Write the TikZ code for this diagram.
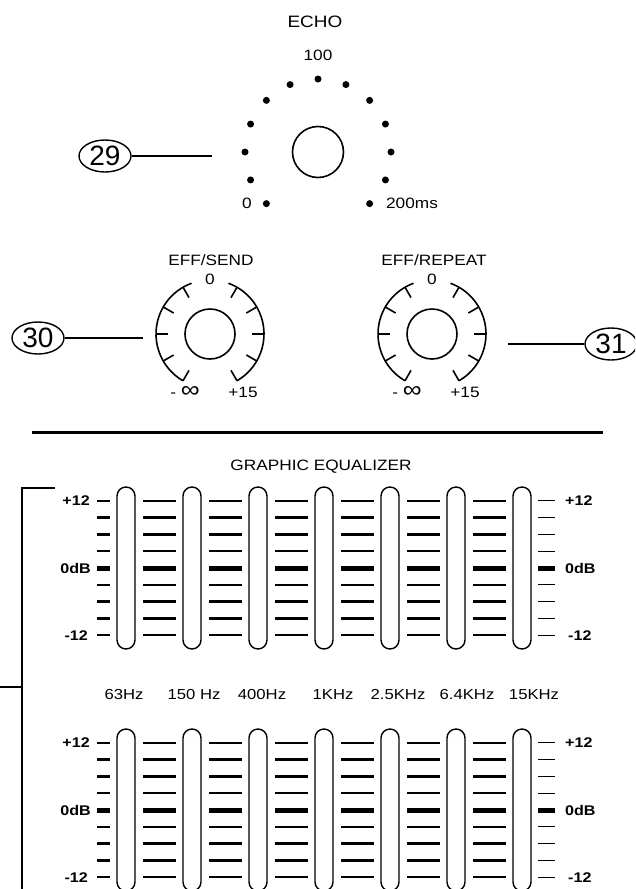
\documentclass[tikz,border=0pt]{standalone}
\usepackage{fontspec}
\setmainfont{Liberation Sans}
\newfontfamily\panelfont{Liberation Sans}[FakeStretch=1.15]
\usetikzlibrary{shapes.geometric}

\begin{document}
\begin{tikzpicture}[x=1pt, y=-1pt,
  lbl/.style={font=\panelfont\fontsize{15}{15}\selectfont, inner sep=0pt},
  dblbl/.style={font=\panelfont\bfseries\fontsize{14}{14}\selectfont, inner sep=0pt},
  callout/.style={ellipse, draw, line width=1.4pt, inner sep=0pt,
                  minimum width=52pt, minimum height=32pt,
                  font=\fontsize{28}{28}\selectfont},
  knob/.style={circle, draw, line width=1.6pt, minimum size=51pt, inner sep=0pt},
  dial/.style={line width=1.6pt},
  slot/.style={draw, line width=1.4pt, rounded corners=9pt,
               minimum width=18pt, minimum height=162pt, inner sep=0pt},
  tick/.style={line width=2.4pt},
  zerotick/.style={line width=5pt},
  lead/.style={line width=1.3pt}]
  \useasboundingbox (0,0) rectangle (635,889);
  \clip (0,0) rectangle (635,889);

  \node[lbl, font=\panelfont\fontsize{16.5}{16.5}\selectfont] (echotitle) at (315,22) {ECHO};
  \node[knob] (echo) at (318,152) {};
  \foreach \a in {-45,-22.5,...,225}
    \fill (echo.center) ++(\a:73pt) circle (3.5pt);
  \node[lbl] (echomax) at (318,55) {100};
  \node[lbl] (echomin) at (247,203) {0};
  \node[lbl] (echoms) at (412,203) {200ms};

  \node[callout] (c29) at (105,156) {29};
  \coordinate (c29end) at (212,156);
  \draw[lead] (c29) -- (c29end);

  \node[lbl] (sendtitle) at (211,260) {EFF/SEND};
  \node[lbl] (repeattitle) at (434,260) {EFF/REPEAT};
  \node[knob, minimum size=50pt] (send) at (210,334) {};
  \node[knob, minimum size=50pt] (repeat) at (432,334) {};
  \foreach \k in {send,repeat}{
    \draw[dial] (\k.center) ++(-60:54pt) arc[start angle=-60, end angle=70, radius=54pt];
    \draw[dial] (\k.center) ++(110:54pt) arc[start angle=110, end angle=240, radius=54pt];
    \foreach \a in {-60,-30,0,30,60,120,150,180,210,240}
      \draw[dial] (\k.center) ++(\a:54pt) -- ++(\a:-12pt);
    \node[lbl] (\k top) at ([shift={(0,-55)}]\k.center) {0};
    \node[lbl] (\k min) at ([shift={(-25,58)}]\k.center) {-\ {\fontsize{23}{15}\selectfont ∞}};
    \node[lbl] (\k max) at ([shift={(33,58)}]\k.center) {+15};
  }

  \node[callout] (c30) at (38,338) {30};
  \coordinate (c30end) at (143,338);
  \draw[lead] (c30) -- (c30end);
  \node[callout] (c31) at (611,344) {31};
  \coordinate (c31end) at (508,344);
  \draw[lead] (c31end) -- (c31);

  \draw[line width=3pt] (32,432) -- (603,432);

  \node[lbl] (eqtitle) at (321,467) {GRAPHIC EQUALIZER};
  \draw[line width=2pt] (55,488) -- (22,488) -- (22,900);
  \draw[line width=2pt] (0,687) -- (22,687);

  \foreach \b/\yc in {u/568,l/810}{
    \foreach \i in {0,...,6}
      \node[slot] (s\b\i) at (126+66*\i,\yc) {};
    \foreach \k in {-4,-3,-2,-1,1,2,3,4}{
      \draw[tick] (97,\yc+16.8*\k) -- (110,\yc+16.8*\k);
      \foreach \i in {0,...,5}
        \draw[tick] (143+66*\i,\yc+16.8*\k) -- ++(33,0);
      \draw[line width=1pt] (538,\yc+16.8*\k) -- (555,\yc+16.8*\k);
    }
    \draw[zerotick] (97,\yc) -- (110,\yc);
    \foreach \i in {0,...,5}
      \draw[zerotick] (143+66*\i,\yc) -- ++(33,0);
    \draw[zerotick] (538,\yc) -- (555,\yc);
    \node[dblbl, anchor=east] (\b lt) at (90,\yc-67.2) {+12};
    \node[dblbl, anchor=east] (\b lz) at (91,\yc) {0dB};
    \node[dblbl, anchor=east] (\b lb) at (88,\yc+67.2) {-12};
    \node[dblbl, anchor=west] (\b rt) at (565,\yc-67.2) {+12};
    \node[dblbl, anchor=west] (\b rz) at (565,\yc) {0dB};
    \node[dblbl, anchor=west] (\b rb) at (568,\yc+67.2) {-12};
  }

  \foreach \x/\f in {124/63Hz,194/150 Hz,262/400Hz,333/1KHz,398/2.5KHz,467/6.4KHz,534/15KHz}
    \node[lbl, font=\panelfont\fontsize{14.5}{14.5}\selectfont, anchor=base] (f\x) at (\x,699) {\f};
\end{tikzpicture}
\end{document}
